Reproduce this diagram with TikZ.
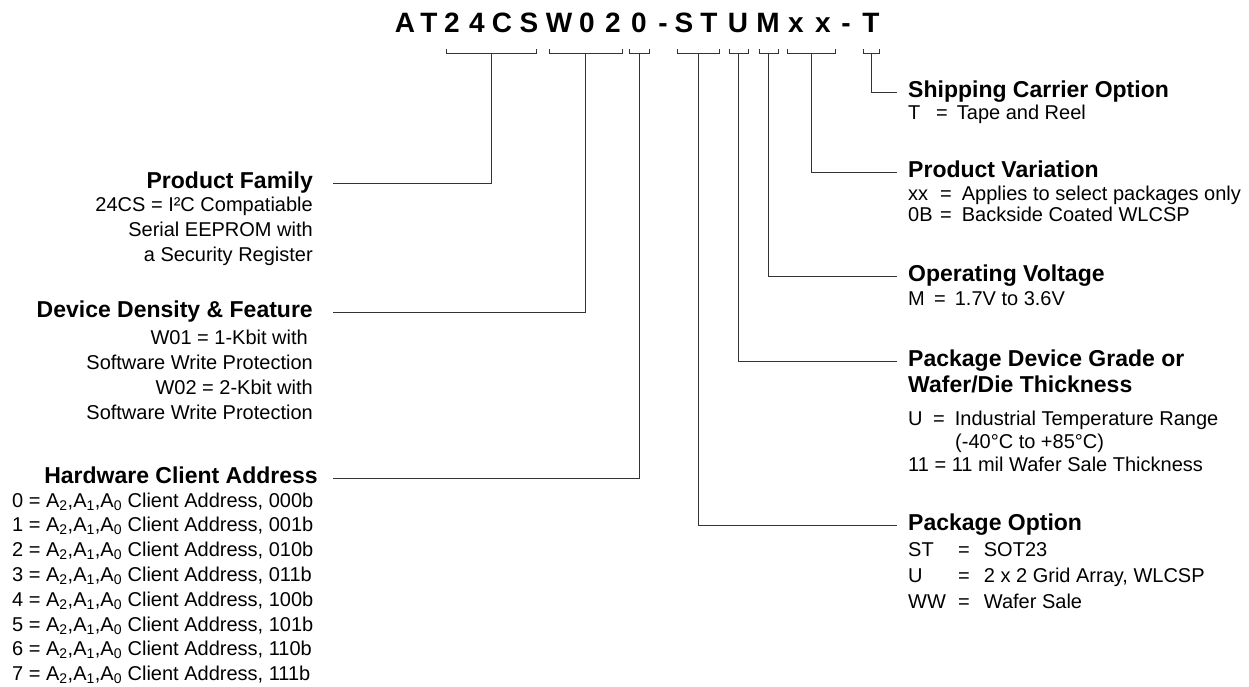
\documentclass[tikz,border=0pt]{standalone}
\usepackage{fontspec}
\setmainfont{Liberation Sans}
\newcommand{\hwaddr}{A\textsubscript{2},A\textsubscript{1},A\textsubscript{0}}
\begin{document}
\begin{tikzpicture}
		[x=1pt,y=-1pt,
		codechar/.style={font=\fontsize{28}{30}\selectfont\bfseries,anchor=base,inner sep=0pt},
		lefttitle/.style={font=\fontsize{23}{27}\selectfont\bfseries,anchor=east,
inner ysep=0pt,inner xsep=20pt,text height=16pt,text depth=5pt},
		righttitle/.style={font=\fontsize{23}{27}\selectfont\bfseries,anchor=west,
inner ysep=0pt,inner xsep=11pt,text height=16pt,text depth=5pt},
		leftbody/.style={font=\fontsize{20}{25}\selectfont,align=right,anchor=north east,
inner ysep=0pt,inner xsep=20pt},
		rightbody/.style={font=\fontsize{20}{23}\selectfont,align=left,anchor=north west,
inner ysep=0pt,inner xsep=11pt},
		hwline/.style={font=\fontsize{20}{25}\selectfont,anchor=base west,inner sep=0pt},
		bracket/.style={line width=1pt,black!80},
		link/.style={-,line width=1pt,black!80,to path={-| (\tikztotarget)}}]
		\useasboundingbox (0,0) rectangle (1249,686);
		% part number
		\foreach \ch/\x [count=\i] in {A/405,T/429,2/452,4/477,C/502,S/529,W/559,0/587,2/613,0/639,
-/663,S/684,T/709,U/738,M/768,x/796,x/823,-/846,T/871}
			\node at (\x,32) (c\i) [codechar] {\ch};
		% brackets under the fields
		\foreach \a/\b/\n in {446/536/pf,549/622/dd,629/649/hw,677/719/po,729/748/pdg,
759/778/ov,787/835/pv,863/879/sc} {
			\draw [bracket] (\a,49) -- (\a,53) -- (\b,53) -- (\b,49);
			\coordinate (b\n) at ({(\a+\b)/2},53);
		}
		% left side
		\node at (333,183) (pf) [lefttitle] {Product Family}
			edge [link] (bpf);
		\node at (333,196.6) (pfbody) [leftbody] {24CS = I²C Compatiable\\Serial EEPROM with\\a Security Register};
		\node at (333,312) (dd) [lefttitle] {Device Density \& Feature}
			edge [link] (bdd);
		\node at (333,329.6) (ddbody) [leftbody] {W01 = 1-Kbit with\hspace*{5pt}\\Software Write Protection\\
W02 = 2-Kbit with\hspace*{5pt}\\Software Write Protection};
		\node at (333,478) (hw) [lefttitle,inner xsep=15pt] {Hardware Client Address}
			edge [link] (bhw);
		\foreach \n/\bits in {0/000,1/001,2/010,3/011,4/100,5/101,6/110,7/111}
			\node at (12,507+24.8*\n) (hw\n) [hwline] {\n{} = \hwaddr{} Client Address, \bits b};
		% right side
		\node at (897,92) (sc) [righttitle] {Shipping Carrier Option}
			edge [link] (bsc);
		\node at (897,105) (scbody) [rightbody] {\makebox[28pt][l]{T}=\hspace{9pt}Tape and Reel};
		\node at (897,172) (pv) [righttitle] {Product Variation}
			edge [link] (bpv);
		\node at (897,186) (pvbody) [rightbody,font=\fontsize{20}{20.5}\selectfont]
			{\makebox[32pt][l]{xx}=\hspace{10pt}Applies to select packages only\\
\makebox[32pt][l]{0B}=\hspace{10pt}Backside Coated WLCSP};
		\node at (897,276) (ov) [righttitle] {Operating Voltage}
			edge [link] (bov);
		\node at (897,291) (ovbody) [rightbody] {\makebox[26pt][l]{M}=\hspace{9pt}1.7V to 3.6V};
		\node at (897,361) (pdg) [righttitle] {Package Device Grade or}
			edge [link] (bpdg);
		\node at (897,387) (pdgb) [righttitle] {Wafer/Die Thickness};
		\node at (897,410.6) (pdgbody) [rightbody]
			{\makebox[25pt][l]{U}=\hspace{10pt}Industrial Temperature Range\\
\hspace*{47pt}(-40°C to +85°C)\\11 = 11 mil Wafer Sale Thickness};
		\node at (897,525) (po) [righttitle] {Package Option}
			edge [link] (bpo);
		\node at (897,542.6) (pobody) [rightbody,font=\fontsize{20}{26}\selectfont]
			{\makebox[50pt][l]{ST}=\hspace{14pt}SOT23\\\makebox[50pt][l]{U}=\hspace{14pt}2 x 2 Grid Array, WLCSP\\
\makebox[50pt][l]{WW}=\hspace{14pt}Wafer Sale};
	\end{tikzpicture}
\end{document}
